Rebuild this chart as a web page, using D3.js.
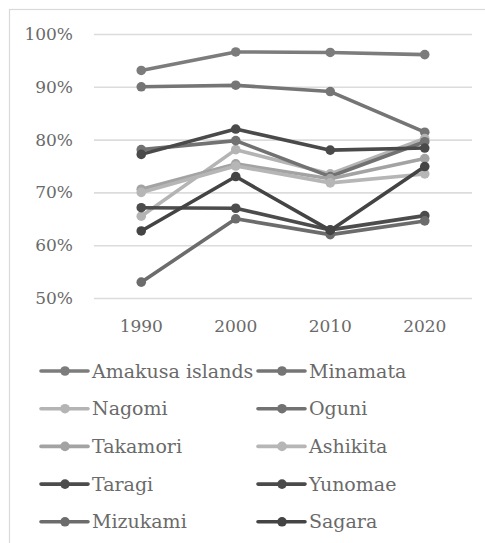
<!DOCTYPE html>
<html>
<head>
<meta charset="utf-8">
<script src="https://cdn.jsdelivr.net/npm/d3@7/dist/d3.min.js"></script>
<style>
  html, body { margin: 0; padding: 0; background: #fff; }
  svg { display: block; }
  text { font-family: "DejaVu Serif", serif; fill: #6a6a6a; }
</style>
</head>
<body>
<script>
// Share (%) by municipality, four census years
const years = ["1990", "2000", "2010", "2020"];
const yTicks = [50, 60, 70, 80, 90, 100];

const seriesNames = ["Amakusa islands", "Minamata", "Nagomi", "Oguni", "Takamori",
                     "Ashikita", "Taragi", "Yunomae", "Mizukami", "Sagara"];
const seriesColors = ["#7c7c7c", "#757575", "#b4b4b4", "#727272", "#a3a3a3",
                      "#b6b6b6", "#4c4c4c", "#4a4a4a", "#6c6c6c", "#444444"];

const amakusa  = [93.1, 96.6, 96.5, 96.1];
const minamata = [90.0, 90.3, 89.1, 81.4];
const nagomi   = [65.5, 78.1, 73.5, 80.2];
const oguni    = [78.1, 79.8, 73.0, 79.6];
const takamori = [70.6, 75.4, 72.6, 76.4];
const ashikita = [70.0, 75.0, 71.8, 73.5];
const taragi   = [67.1, 67.0, 62.9, 65.6];
const yunomae  = [77.2, 82.0, 78.0, 78.4];
const mizukami = [53.0, 65.0, 62.0, 64.6];
const sagara   = [62.7, 73.0, 62.8, 74.9];

const seriesValues = [amakusa, minamata, nagomi, oguni, takamori,
                      ashikita, taragi, yunomae, mizukami, sagara];

const series = seriesNames.map((name, i) => ({
  name, color: seriesColors[i],
  values: seriesValues[i].map((v, j) => ({ year: years[j], v }))
}));

const W = 485, H = 543;
const plot = { left: 94, right: 472, top: 34, bottom: 298 };

const svg = d3.select("body").append("svg").attr("width", W).attr("height", H);

// chart frame
svg.append("rect")
  .attr("x", 9.5).attr("y", 9.5)
  .attr("width", 500).attr("height", 560)
  .attr("fill", "#fff").attr("stroke", "#d9d9d9").attr("stroke-width", 1.2);

const x = d3.scaleBand().domain(years).range([plot.left, plot.right]).padding(0);
const y = d3.scaleLinear().domain([50, 100]).range([plot.bottom, plot.top]);

// horizontal grid + value labels
const yAxis = svg.append("g")
  .attr("transform", `translate(${plot.left},0)`)
  .call(d3.axisLeft(y).tickValues(yTicks)
        .tickSize(-(plot.right - plot.left)).tickPadding(21)
        .tickFormat(d => d + "%"));
yAxis.select(".domain").remove();
yAxis.selectAll(".tick line").attr("stroke", "#dcdcdc").attr("stroke-width", 1.6);
yAxis.selectAll(".tick text").style("font-size", "17px").attr("fill", "#6a6a6a");

// category labels
const xAxis = svg.append("g")
  .attr("transform", `translate(0,${plot.bottom})`)
  .call(d3.axisBottom(x).tickSize(0).tickPadding(22));
xAxis.select(".domain").remove();
xAxis.selectAll(".tick text").style("font-size", "17px").attr("fill", "#6a6a6a");

// series lines with markers
const line = d3.line().x(d => x(d.year) + x.bandwidth() / 2).y(d => y(d.v));
const g = svg.append("g");
series.forEach(s => {
  const sg = g.append("g");
  sg.append("path").datum(s.values)
    .attr("d", line).attr("fill", "none")
    .attr("stroke", s.color).attr("stroke-width", 3.6)
    .attr("stroke-linejoin", "round").attr("stroke-linecap", "round");
  sg.selectAll("circle").data(s.values).join("circle")
    .attr("cx", d => x(d.year) + x.bandwidth() / 2)
    .attr("cy", d => y(d.v))
    .attr("r", 4.8).attr("fill", s.color);
});

// legend, two columns
const legend = svg.append("g");
const colX = [41, 258];
const rowY0 = 371, rowStep = 37.7;
series.forEach((s, i) => {
  const lx = colX[i % 2], ly = rowY0 + Math.floor(i / 2) * rowStep;
  const lg = legend.append("g").attr("transform", `translate(${lx},${ly})`);
  lg.append("line").attr("x1", 0).attr("x2", 47).attr("y1", 0).attr("y2", 0)
    .attr("stroke", s.color).attr("stroke-width", 3.6).attr("stroke-linecap", "round");
  lg.append("circle").attr("cx", 24).attr("cy", 0).attr("r", 4.8).attr("fill", s.color);
  lg.append("text").attr("x", 51).attr("y", 0).attr("dy", "0.35em")
    .style("font-size", "19px").attr("fill", "#6a6a6a").text(s.name);
});
</script>
</body>
</html>
